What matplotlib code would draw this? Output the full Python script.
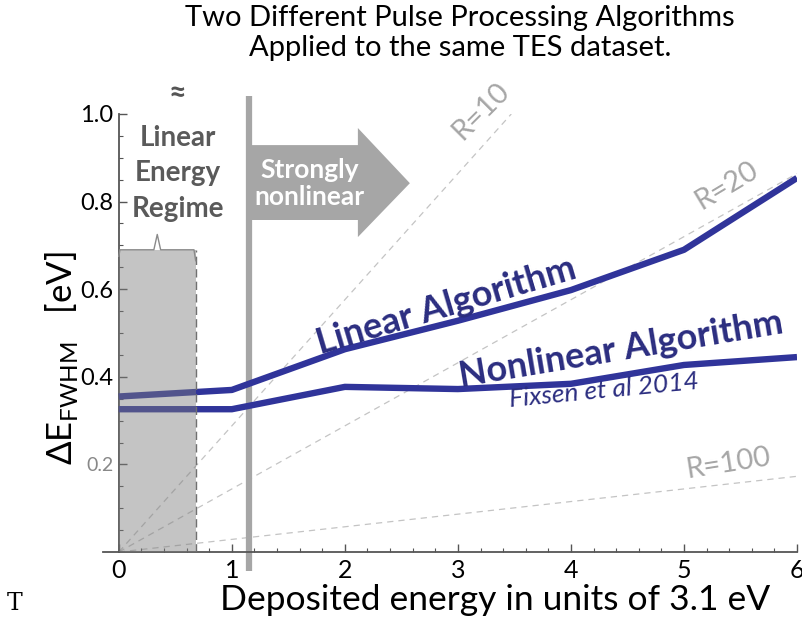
#!/usr/bin/env python3

import numpy as np
from matplotlib import pyplot as plt
from matplotlib.patches import Polygon, Rectangle

plt.rcParams['font.family'] = ['Lato', 'DejaVu Sans']
plt.rcParams['mathtext.fontset'] = 'custom'
plt.rcParams['mathtext.rm'] = 'Lato'

# energy in units of 3.1 eV
energy = [0, 1, 2, 3, 4, 5, 6]
linear_fwhm = [0.355, 0.370, 0.463, 0.528, 0.598, 0.690, 0.854]
nonlinear_fwhm = [0.326, 0.326, 0.377, 0.372, 0.384, 0.427, 0.445]

# resolving power guide lines, dE = k * E / R
r_values = [10, 20, 100]
r_slope_const = 2.88
r_label_pos = [(3.20, 1.007, 45), (5.38, 0.836, 31), (5.39, 0.203, 9)]

blue = '#30349a'
blue_txt = '#2b2d80'
grey = '#a6a6a6'


def main():
    fig = plt.figure(figsize=(8.02, 6.28), dpi=100)
    ax = fig.add_axes([103 / 802, 76 / 628, 694 / 802, 438 / 628])

    # R lines
    for R, (lx, ly, rot) in zip(r_values, r_label_pos):
        k = r_slope_const / R
        xend = min(6.0, 1.0 / k)
        ax.plot([0, xend], [0, k * xend], ls=(0, (5, 4)), lw=0.9,
                color='#c4c4c4', zorder=1)
        ax.text(lx, ly, 'R=%d' % R, color=grey, fontsize=21,
                rotation=rot, ha='center', va='center')

    ax.plot(energy, linear_fwhm, color=blue, lw=4.6, solid_joinstyle='round',
            solid_capstyle='butt', zorder=3)
    ax.plot(energy, nonlinear_fwhm, color=blue, lw=4.6, solid_joinstyle='round',
            solid_capstyle='butt', zorder=3)

    # linear energy regime box
    bw, bh = 0.68, 0.69
    ax.add_patch(Rectangle((0, 0), bw, bh, facecolor='#7c7c7c', alpha=0.45,
                           edgecolor='none', zorder=4))
    ax.plot([bw, bw], [0, bh], ls=(0, (6, 3)), lw=1.0, color='#707070', zorder=5)
    ax.plot([0.0, 0.01, 0.31, 0.34, 0.37, 0.665, 0.68],
            [0.675, bh, bh, 0.725, bh, bh, 0.665],
            color='#8a8a8a', lw=1.0, zorder=5)
    ax.text(0.52, 0.865, 'Linear\nEnergy\nRegime', color='#5a5a5a',
            fontsize=20, fontweight='bold', ha='center', va='center',
            linespacing=1.45, zorder=6)
    ax.text(0.52, 1.048, '≈', color='#555555', fontsize=22, fontweight='bold',
            ha='center', va='center')

    # strongly nonlinear arrow
    ax.plot([1.15, 1.15], [-0.043, 1.04], color=grey, lw=4.5, clip_on=False,
            solid_capstyle='butt', zorder=2)
    arrow = [(1.15, 0.758), (2.115, 0.758), (2.115, 0.719), (2.575, 0.842),
             (2.115, 0.968), (2.115, 0.929), (1.15, 0.929)]
    ax.add_patch(Polygon(arrow, closed=True, facecolor=grey, edgecolor='none',
                         zorder=2))
    ax.text(1.69, 0.842, 'Strongly\nnonlinear', color='white', fontsize=19,
            fontweight='bold', ha='center', va='center', linespacing=1.15,
            zorder=3)

    # curve labels
    ax.text(2.90, 0.562, 'Linear Algorithm', color=blue_txt, fontsize=26,
            fontweight='bold', rotation=16.5, ha='center', va='center')
    ax.text(4.44, 0.461, 'Nonlinear Algorithm', color=blue_txt, fontsize=26,
            fontweight='bold', rotation=9.5, ha='center', va='center')
    ax.text(4.29, 0.370, 'Fixsen et al 2014', color=blue_txt, fontsize=19,
            style='italic', rotation=5.5, ha='center', va='center')

    # axes styling (Mathematica-like, crossing at origin)
    ax.set_xlim(-0.14, 6.0)
    ax.set_ylim(0, 1.0)
    ax.spines['left'].set_position(('data', 0))
    ax.spines['right'].set_visible(False)
    ax.spines['top'].set_visible(False)
    for s in ('left', 'bottom'):
        ax.spines[s].set_color('#555555')
        ax.spines[s].set_linewidth(1.3)
    ax.set_xticks(range(7))
    ax.set_xticks(np.arange(0, 6.01, 0.2), minor=True)
    ax.set_yticks([0.2, 0.4, 0.6, 0.8, 1.0])
    ax.set_yticklabels(['0.2', '0.4', '0.6', '0.8', '1.0'])
    ax.set_yticks(np.arange(0.05, 1.0, 0.05), minor=True)
    ax.tick_params(which='both', direction='in', color='#555555')
    ax.tick_params(which='major', length=6, width=1.0)
    ax.tick_params(axis='x', labelsize=18, pad=5)
    ax.tick_params(axis='y', labelsize=17, pad=4)
    ax.tick_params(which='minor', length=3, width=0.8)
    ax.get_yticklabels()[0].set_color('#888888')
    ax.get_yticklabels()[0].set_fontsize(14)

    fig.text(460 / 802, 1 - 33 / 628,
             'Two Different Pulse Processing Algorithms\nApplied to the same TES dataset.',
             ha='center', va='center', fontsize=21, linespacing=1.2)
    fig.text(495 / 802, 1 - 600 / 628, 'Deposited energy in units of 3.1 eV',
             ha='center', va='center', fontsize=25.5)
    fig.text(62 / 802, 1 - 358 / 628, 'ΔE$_{\\mathrm{FWHM}}$   [eV]',
             ha='center', va='center', fontsize=25, rotation=90)
    fig.text(15 / 802, 1 - 603 / 628, 'T', family='DejaVu Serif',
             ha='center', va='center', fontsize=17)

    fig.savefig('out.png', dpi=100)


if __name__ == '__main__':
    main()
